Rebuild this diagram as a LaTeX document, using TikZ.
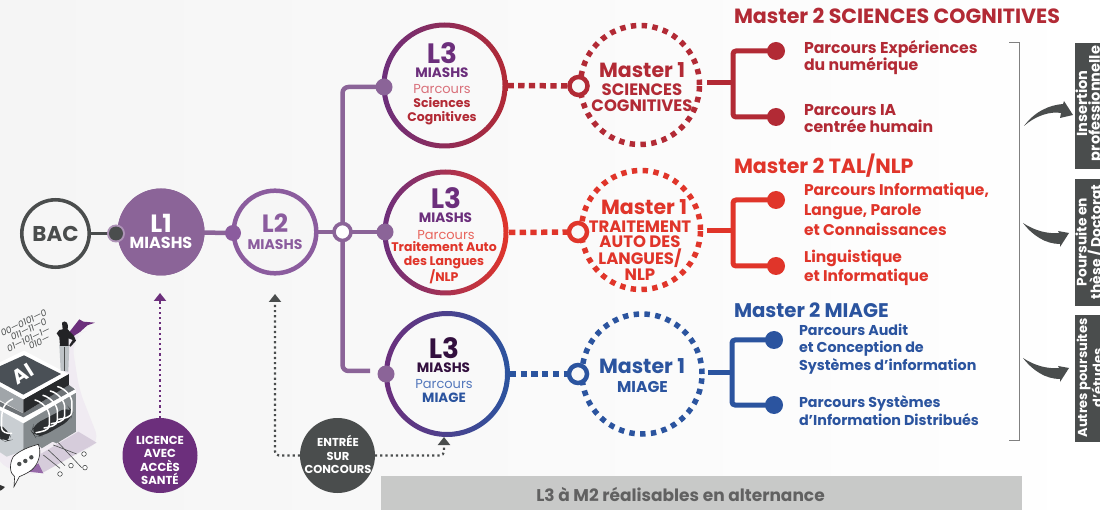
\documentclass[tikz,border=0pt]{standalone}
\usepackage{fontspec}
\setmainfont{Poppins}
\usetikzlibrary{arrows.meta,calc}
\definecolor{lil}{HTML}{8B6498}
\definecolor{lilb}{HTML}{8B5C9E}
\definecolor{pur}{HTML}{6C2F7C}
\definecolor{drk}{HTML}{4A4D4D}
\definecolor{rdA}{HTML}{B22A35}
\definecolor{rdB}{HTML}{E0352A}
\definecolor{blu}{HTML}{2B549F}
\definecolor{pnkA}{HTML}{D9707A}
\definecolor{pnkB}{HTML}{E8665E}
\definecolor{bluL}{HTML}{5478BC}
\definecolor{inner}{HTML}{F8F8F8}
\definecolor{flr}{HTML}{F6F6F6}
\definecolor{nuit}{HTML}{33103F}
\newcommand{\fs}[2]{\fontsize{#1pt}{#2pt}\selectfont}
\tikzset{
  x=1pt,y=-1pt,
  txt/.style={inner sep=0pt,outer sep=0pt,align=center},
  disc/.style={circle,inner sep=0pt,outer sep=0pt,minimum size=#1},
  trunk/.style={line width=4.5pt,lil,rounded corners=6pt},
  mdash/.style={line width=5.5pt,dash pattern=on 6.3pt off 4.4pt},
  mring/.style={line width=5.5pt,dash pattern=on 5.4pt off 5.4pt},
  dotline/.style={line width=2.2pt,dash pattern=on 2.2pt off 3pt},
  branch/.style={line width=5pt,rounded corners=3pt},
  swoosh/.style={fill=drk,draw=none},
  side/.style={fill=drk,draw=none},
  whitetx/.style={txt,text=white,rotate=90},
  mt/.style={txt,anchor=west,font=\fs{20.6}{21}\bfseries},
  pa/.style={txt,anchor=west,align=left,font=\fs{15.7}{17.7}\bfseries},
  pb/.style={txt,anchor=west,align=left,font=\fs{15.5}{19.7}\bfseries},
  pc/.style={txt,anchor=west,align=left,font=\fs{14.3}{17.7}\bfseries},
}
\begin{document}
\begin{tikzpicture}
\clip (0,0) rectangle (1100,510);
\shade[left color=black!4,right color=white] (0,0) rectangle (1100,510);

% ---------- illustration
\begin{scope}[shift={(0,300)},x=0.3333pt,y=-0.3333pt]
\fill[color={rgb,255:red,240;green,235;blue,242},rounded corners=12pt] (-10,490)--(95,530)--(300,428)--(238,270)--(215,125)--(255,95)--(225,100)--(190,130)--(190,300)--(-10,400)--cycle;
\fill[color={rgb,255:red,214;green,204;blue,219}] (125,520)--(290,428)--(235,395)--(95,478)--cycle;
\fill[color={rgb,255:red,150;green,105;blue,168}] (85,515)--(130,520)--(115,490)--cycle;
% circuit
\foreach \a/\b/\c/\d in {160/435/230/462,145/450/195/497,130/465/180/505,175/428/245/503}
  \draw[line width=.6pt,drk] (\a,\b)--(\c,\d);
\draw[line width=.6pt,drk,fill=white] (252,462) circle (2.3pt) (255,503) circle (2.3pt) (213,497) circle (2.3pt) (180,522) circle (2.3pt);
% binary
\foreach \xx/\yy/\t/\nm in {138/36/00—0101—0/a,138/63/011—11—0/b,148/87/01—101—1—/c,147/112/010—/d}
  \node[txt,anchor=east,rotate=26,text=drk,font=\fs{9}{9}\itshape] (bin\nm) at (\xx,\yy) {\t};
% block
\fill[color={rgb,255:red,201;green,206;blue,210}] (-10,325)--(70,368)--(70,452)--(20,470)--(-10,450)--cycle;
\fill[color={rgb,255:red,132;green,138;blue,141}] (70,368)--(228,275)--(228,395)--(170,430)--(158,425)--(125,445)--(118,438)--(70,452)--cycle;
\fill[white] (-10,305)--(70,350)--(225,262)--(228,278)--(70,370)--(-10,325)--cycle;
\fill[color={rgb,255:red,110;green,115;blue,119}] (-30,290)--(70,340)--(207,255)--(225,268)--(70,352)--(-30,305)--cycle;
% slots
\fill[color={rgb,255:red,45;green,48;blue,50},rounded corners=8pt] (95,395)--(100,375)--(205,320)--(218,335)--(212,360)--(130,408)--(105,410)--cycle;
\fill[color={rgb,255:red,45;green,48;blue,50},rounded corners=8pt] (-10,370)--(25,390)--(35,420)--(15,425)--(-10,410)--cycle;
% plate
\fill[color={rgb,255:red,160;green,165;blue,169}] (-70,220)--(70,298)--(70,340)--(-70,262)--cycle;
\fill[color={rgb,255:red,40;green,42;blue,44}] (70,298)--(207,222)--(207,255)--(70,340)--cycle;
\fill[white] (72,152)--(205,222)--(70,298)--(-70,220)--cycle;
\fill[color={rgb,255:red,74;green,80;blue,86}] (72,166)--(183,222)--(70,284)--(-48,220)--cycle;
\node[txt,text=white,rotate=32,font=\fs{20}{20}\bfseries] (chipai) at (68,221) {AI};
% hooks
\foreach \dx/\dy in {0/0,24/-14,46/-27,68/-40}{
  \begin{scope}[shift={(\dx,\dy)}]
  \draw[line width=1.5pt,white,line cap=round] (105,300) .. controls (125,305) and (145,325) .. (148,345) -- (148,375) .. controls (148,392) and (125,395) .. (108,398);
  \end{scope}}
\draw[line width=1.5pt,white,line cap=round] (38,297) .. controls (10,310) and (5,330) .. (5,360) -- (5,385) .. controls (5,395) and (20,402) .. (35,400);
% woman
\fill[pur] (205,100)--(238,58)--(250,65)--(285,68)--(262,76)--(240,96)--(215,112)--cycle;
\fill[color={rgb,255:red,190;green,195;blue,199}] (178,135)--(208,135)--(205,215)--(182,212)--cycle;
\draw[drk,line width=.5pt] (193,140)--(193,213);
\fill[color={rgb,255:red,35;green,35;blue,38}] (186,68) .. controls (196,58) and (208,70) .. (203,88) -- (222,108) -- (228,122) -- (212,140) -- (208,136) -- (218,120) -- (206,115) -- (206,138) -- (180,138) -- (178,112) -- (170,100) -- (178,90) -- (188,88) -- cycle;
% bubble
\fill[white,draw=black!85,line width=.6pt] (40,470) .. controls (60,450) and (90,440) .. (115,433) .. controls (125,455) and (118,490) .. (95,510) .. controls (82,520) and (65,527) .. (58,530) -- (42,560) -- (44,530) .. controls (28,520) and (28,490) .. (40,470) -- cycle;
\fill[drk] (58,492) circle (2.2pt) (76,483) circle (2.2pt) (94,472) circle (2.2pt);
\fill[black!80] (0,555)--(15,561)--(5,570)--(0,572)--cycle;
\end{scope}

% ---------- first row
\node[disc=71pt] (bac) at (55.5,233.5) {};
\node[disc=87pt,fill=lil] (l1) at (161,232) {};
\node[disc=87pt] (l2) at (275,232) {};
\node[disc=21pt] (junc) at (342.5,232) {};
\node[disc=17pt] (d1) at (384,87) {};
\node[disc=17pt] (d2) at (385,232) {};
\node[disc=17pt] (d3) at (386,374) {};
\node[disc=15pt] (dbac) at (116,233.5) {};
\node[disc=16pt] (dl2) at (233,233) {};
\coordinate (d3in) at (370,371);

% connectors
\draw[line width=3.5pt,drk] (bac.center) -- (dbac.center);
\draw[line width=4.5pt,lil] (l1.center) -- (dl2.center);
\draw[line width=4.5pt,lil] (l2.center) -- (junc.center) -- (d2.center);
\draw[trunk] (d1.center) -| (junc.center) |- (d3in);

\draw[line width=3.6pt,drk,fill=flr] (bac.center) circle (33.7pt);
\fill[lil] (l1.center) circle (43.5pt);
\draw[line width=4.5pt,lilb,fill=flr] (l2.center) circle (41.3pt);
\fill[lil!70] (dbac.center) circle (9pt);
\fill[drk] (dbac.center) circle (7pt);
\fill[lilb] (dl2.center) circle (8pt);
\draw[line width=3.6pt,lil,fill=white] (junc.center) circle (8.5pt);

\node[txt,text=drk,font=\fs{21.4}{21}\bfseries] (tbac) at (55.5,233.5) {BAC};
\node[txt,text=white,font=\fs{25}{25}\bfseries] (tl1) at (161,223) {L1};
\node[txt,text=white,font=\fs{16}{16}\bfseries] (sl1) at (161,243) {MIASHS};
\node[txt,text=lilb,font=\fs{25}{25}\bfseries] (tl2) at (275,223) {L2};
\node[txt,text=lilb,font=\fs{14}{14}\bfseries] (sl2) at (275,244.5) {MIASHS};

% ---------- L3 rings
\node[disc=126pt] (l3a) at (444.5,85.5) {};
\node[disc=127pt] (l3b) at (445.5,232.5) {};
\node[disc=126pt] (l3c) at (447,374) {};
\node[disc=124pt] (m1a) at (640,85) {};
\node[disc=124pt] (m1b) at (641,230) {};
\node[disc=125pt] (m1c) at (642,374) {};
\node[disc=23pt] (ra) at (578.5,86) {};
\node[disc=23pt] (rb) at (578,232) {};
\node[disc=23pt] (rc) at (578,374) {};

\foreach \n/\c/\m in {l3a/rdA/7B2C6C,l3b/rdB/7E2C6E,l3c/blu/5B3C8E}{
  \definecolor{mid}{HTML}{\m}
  \shade[even odd rule,left color=pur,middle color=mid,right color=\c] (\n.center) circle (63pt) circle (58pt);
}
\fill[lil] (d1.center) circle (8.5pt);
\fill[lil] (d2.center) circle (8.5pt);
\fill[lil] (d3.center) circle (8.5pt);

% L3 texts
\node[txt,text=pur,font=\fs{28}{28}\bfseries] (a1) at (442,53) {L3};
\node[txt,text=pur,font=\fs{13.6}{14}\bfseries] (a2) at (442,73) {MIASHS};
\node[txt,text=pnkA,font=\fs{13}{13}] (a3) at (442,89) {Parcours};
\node[txt,text=rdA,font=\fs{12.5}{14}\bfseries] (a4) at (442,111) {Sciences\\Cognitives};
\node[txt,text=pur,font=\fs{28}{28}\bfseries] (b1) at (446,198) {L3};
\node[txt,text=pur,font=\fs{13.6}{14}\bfseries] (b2) at (445.5,218) {MIASHS};
\node[txt,text=pnkB,font=\fs{13}{13}] (b3) at (446,235) {Parcours};
\node[txt,text=rdB,font=\fs{12.5}{14}\bfseries] (b4) at (444,263) {Traitement Auto\\des Langues\\/NLP};
\node[txt,text=nuit,font=\fs{28}{28}\bfseries] (c1) at (444,348) {L3};
\node[txt,text=nuit,font=\fs{13.6}{14}\bfseries] (c2) at (443.5,368) {MIASHS};
\node[txt,text=bluL,font=\fs{13}{13}] (c3) at (444,384) {Parcours};
\node[txt,text=blu,font=\fs{13.4}{13}\bfseries] (c4) at (444,398) {MIAGE};

% ---------- master 1
\draw[mdash,rdA] (l3a.east) -- (ra.center);
\draw[mdash,rdB] (l3b.east) -- (rb.center);
\draw[mdash,blu] (l3c.east) -- (rc.center);
\draw[mring,rdA] (m1a.center) circle (59.5pt);
\draw[mring,rdB] (m1b.center) circle (59.5pt);
\draw[mring,blu] (m1c.center) circle (60pt);
\draw[line width=4.5pt,rdA,fill=inner] (ra.center) circle (9pt);
\draw[line width=4.5pt,rdB,fill=inner] (rb.center) circle (9pt);
\draw[line width=4.5pt,blu,fill=inner] (rc.center) circle (9pt);

\node[txt,text=rdA,font=\fs{20.5}{21}\bfseries] (ma1) at (642,70) {Master 1};
\node[txt,text=rdA,font=\fs{16.5}{16}\bfseries] (ma2) at (642,98) {SCIENCES\\COGNITIVES};
\node[txt,text=rdB,font=\fs{20.5}{21}\bfseries] (mb1) at (644,207) {Master 1};
\node[txt,text=rdB,font=\fs{16.5}{15.4}\bfseries] (mb2) at (640,250.5) {TRAITEMENT\\AUTO DES\\LANGUES/\\NLP};
\node[txt,text=blu,font=\fs{20.5}{21}\bfseries] (mc1) at (642,366) {Master 1};
\node[txt,text=blu,font=\fs{15.6}{14}\bfseries] (mc2) at (642.5,387) {MIAGE};

% ---------- branches
\coordinate (ba) at (707,83); \coordinate (ja) at (733,83);
\coordinate (bb) at (707,231); \coordinate (jb) at (733,231);
\coordinate (bc) at (708,373); \coordinate (jc) at (732,373);
\node[disc=18pt,fill=rdA] (p1) at (776,51) {};
\node[disc=18pt,fill=rdA] (p2) at (776,117) {};
\node[disc=18pt,fill=rdB] (p3) at (776,200) {};
\node[disc=18pt,fill=rdB] (p4) at (776,266) {};
\node[disc=18pt,fill=blu] (p5) at (774,340) {};
\node[disc=18pt,fill=blu] (p6) at (774,405) {};
\draw[line width=5pt,rdA] (ba) -- (ja);
\draw[line width=5pt,rdB] (bb) -- (jb);
\draw[line width=5pt,blu] (bc) -- (jc);
\draw[branch,rdA] (p1.center) -| (ja) |- (p2.center);
\draw[branch,rdB] (p3.center) -| (jb) |- (p4.center);
\draw[branch,blu] (p5.center) -| (jc) |- (p6.center);

\node[mt,text=rdA] (h1) at (734,16) {Master 2 SCIENCES COGNITIVES};
\node[mt,text=rdB] (h2) at (734,166) {Master 2 TAL/NLP};
\node[mt,text=blu,font=\fs{19.7}{20}\bfseries] (h3) at (734,310) {Master 2 MIAGE};
\node[pa,text=rdA] (q1) at (804,57.5) {Parcours Expériences\\du numérique};
\node[pa,text=rdA] (q2) at (804,118.5) {Parcours IA\\centrée humain};
\node[pb,text=rdB] (q3) at (804,209.5) {Parcours Informatique,\\Langue, Parole\\et Connaissances};
\node[pb,text=rdB] (q4) at (804,268) {Linguistique\\et Informatique};
\node[pc,text=blu] (q5) at (799,349) {Parcours Audit\\et Conception de\\Systèmes d’information};
\node[pc,text=blu] (q6) at (799,410.5) {Parcours Systèmes\\d’Information Distribués};

% ---------- bracket
\coordinate (bk1) at (1009,43); \coordinate (bk2) at (1009,440); \coordinate (bkx) at (1019,43);
\draw[line width=1pt,black!50] (bk1) -- (bkx) |- (bk2);

% ---------- swooshes
\fill[swoosh] (1024,126) .. controls (1035,111) and (1050,105) .. (1063,104) -- (1064,101) -- (1073,115) -- (1060,118) -- (1061,113) .. controls (1050,111) and (1035,116) .. (1024,126) -- cycle;
\fill[swoosh] (1023,223) .. controls (1035,231) and (1048,234) .. (1059,233) -- (1058,231) -- (1069,233) -- (1060,247) -- (1060,244) .. controls (1046,244) and (1033,236) .. (1023,223) -- cycle;
\fill[swoosh] (1023,358) .. controls (1035,366) and (1048,369) .. (1059,368) -- (1058,366) -- (1069,368) -- (1060,382) -- (1060,379) .. controls (1046,379) and (1033,371) .. (1023,358) -- cycle;

% ---------- side boxes
\fill[side] (1075,43) rectangle (1100,169);
\fill[side] (1075,179) rectangle (1100,306);
\fill[side] (1075,315) rectangle (1100,442);
\node[whitetx,font=\fs{14.5}{11.4}\bfseries] (s1) at (1089.5,103.5) {Insertion\\professionnelle};
\node[whitetx,font=\fs{13.8}{11.4}\bfseries] (s2) at (1089.5,242) {Poursuite en\\thèse / Doctorat};
\node[whitetx,font=\fs{13}{11.4}\bfseries] (s3) at (1089.5,378) {Autres poursuites\\d'études};

% ---------- bottom band
\fill[color={rgb,255:red,200;green,201;blue,200}] (381,476) rectangle (1022,510);
\node[txt,text=black!62,font=\fs{17}{17}\bfseries] (band) at (680.5,494) {L3 à M2 réalisables en alternance};

% ---------- small circles
\node[disc=75pt,fill=pur] (lic) at (160,455.5) {};
\node[txt,text=white,font=\fs{11.6}{13.4}\bfseries] (tlic) at (160,460.5) {LICENCE\\AVEC\\ACCÈS\\SANTÉ};
\node[disc=75pt,fill=drk] (ent) at (337.5,455.5) {};
\node[txt,text=white,font=\fs{11.5}{13.5}\bfseries] (tent) at (338,454.5) {ENTRÉE\\SUR\\CONCOURS};
\coordinate (lictip) at (160,293);
\coordinate (l2tip) at (275,294);
\coordinate (l3ctip) at (444,437);
\draw[dotline,pur,-{Triangle[width=12pt,length=8pt]}] (lic.north) -- (lictip);
\draw[dotline,drk,rounded corners=4pt,-{Triangle[width=12pt,length=8pt]}] (ent.west) -| (l2tip);
\draw[dotline,drk,rounded corners=4pt,-{Triangle[width=12pt,length=8pt]}] (ent.east) -| (l3ctip);
\end{tikzpicture}
\end{document}
